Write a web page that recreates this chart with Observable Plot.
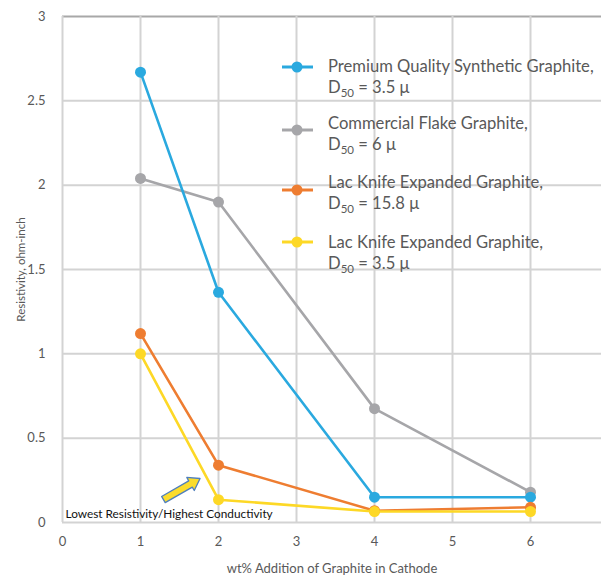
<!DOCTYPE html>
<html>
<head>
<meta charset="utf-8">
<script src="https://cdn.jsdelivr.net/npm/d3@7"></script>
<script src="https://cdn.jsdelivr.net/npm/@observablehq/plot@0.6"></script>
<style>
  html, body { margin: 0; padding: 0; background: #fff; }
  #wrap { position: relative; width: 601px; height: 575px; font-family: Lato, "Open Sans", sans-serif; }
  #legend { position: absolute; left: 0; top: 0; width: 601px; height: 300px; pointer-events: none; }
  .item { position: absolute; left: 328px; color: #595959; font-size: 16.6px; line-height: 21px; white-space: nowrap; }
  .item sub { font-size: 11.5px; vertical-align: -4px; line-height: 0; }
  .mk { position: absolute; left: 281px; width: 33px; height: 14px; }
</style>
</head>
<body>
<div id="wrap"></div>
<script>
// ---- data ----
const xValues = [1, 2, 4, 6];
const seriesNames = [
  "Premium Quality Synthetic Graphite, D50 = 3.5 μ",
  "Commercial Flake Graphite, D50 = 6 μ",
  "Lac Knife Expanded Graphite, D50 = 15.8 μ",
  "Lac Knife Expanded Graphite, D50 = 3.5 μ"
];
const premiumSynthetic = [2.67, 1.365, 0.15, 0.15];
const commercialFlake = [2.04, 1.90, 0.675, 0.18];
const lacKnife158 = [1.12, 0.34, 0.07, 0.09];
const lacKnife35 = [1.0, 0.135, 0.065, 0.065];
const seriesColors = ["#2aa9df", "#a6a6a9", "#ee7d31", "#fdd826"];
const legendLine1 = [
  "Premium Quality Synthetic Graphite,",
  "Commercial Flake Graphite,",
  "Lac Knife Expanded Graphite,",
  "Lac Knife Expanded Graphite,"
];
const legendD50 = ["3.5 μ", "6 μ", "15.8 μ", "3.5 μ"];
const xTicks = [0, 1, 2, 3, 4, 5, 6];
const yTicks = [0, 0.5, 1, 1.5, 2, 2.5, 3];
const annotationText = "Lowest Resistivity/Highest Conductivity";
const annotationPos = [{x: 0.04, y: 0.05}];
const arrowData = [{x1: 1.30, y1: 0.133, x2: 1.77, y2: 0.258}];

// ---- build table ----
const allSeries = [premiumSynthetic, commercialFlake, lacKnife158, lacKnife35];
const rows = [];
allSeries.forEach((vals, s) => vals.forEach((v, i) => rows.push({series: seriesNames[s], idx: s, x: xValues[i], y: v})));
// drawing order: gray, blue, orange, yellow
const order = [1, 0, 2, 3];

const W = 601, H = 575, mL = 62, mR = 0, mT = 16, mB = 53;
const xMax = (W - mL) / 78;

function blockArrow(index, scales, values) {
  const g = d3.create("svg:g");
  for (const i of index) {
    const x1 = values.x1[i], y1 = values.y1[i], x2 = values.x2[i], y2 = values.y2[i];
    const dx = x2 - x1, dy = y2 - y1, L = Math.hypot(dx, dy);
    const ux = dx / L, uy = dy / L, nx = -uy, ny = ux;
    const sw = 3.6, hw = 7.5, hl = 11;
    const bx = x2 - ux * hl, by = y2 - uy * hl;
    const pts = [
      [x1 + nx * sw, y1 + ny * sw], [bx + nx * sw, by + ny * sw], [bx + nx * hw, by + ny * hw],
      [x2, y2], [bx - nx * hw, by - ny * hw], [bx - nx * sw, by - ny * sw], [x1 - nx * sw, y1 - ny * sw]
    ];
    g.append("path").attr("d", "M" + pts.map(p => p.join(",")).join("L") + "Z")
      .attr("fill", "#fbdc2c").attr("stroke", "#4f7fbd").attr("stroke-width", 1.3).attr("stroke-linejoin", "round");
  }
  return g.node();
}

const fmt = d => `${d}`;

const chart = Plot.plot({
  width: W, height: H,
  marginLeft: mL, marginRight: mR, marginTop: mT, marginBottom: mB,
  style: {fontFamily: "Lato, 'Open Sans', sans-serif", color: "#595959", background: "#fff"},
  x: {domain: [0, xMax]},
  y: {domain: [0, 3]},
  marks: [
    Plot.ruleY(yTicks.filter(d => d < 3), {stroke: "#d3d3d3", strokeWidth: 2}),
    Plot.ruleY([3], {stroke: "#a8a8a8", strokeWidth: 2}),
    Plot.ruleX(xTicks, {stroke: "#d3d3d3", strokeWidth: 2}),
    Plot.axisX({ticks: xTicks, tickSize: 0, tickPadding: 14, fontSize: 13, tickFormat: fmt,
      label: "wt% Addition of Graphite in Cathode", labelAnchor: "center", labelOffset: 50, labelArrow: "none"}),
    Plot.axisY({ticks: yTicks, tickSize: 0, tickPadding: 17, fontSize: 13, tickFormat: fmt,
      label: "Resistivity, ohm-inch", labelAnchor: "center", labelOffset: 46, labelArrow: "none"}),
    ...order.map(s => Plot.line(rows.filter(r => r.idx === s), {x: "x", y: "y", stroke: seriesColors[s], strokeWidth: 2.6})),
    ...order.map(s => Plot.dot(rows.filter(r => r.idx === s), {x: "x", y: "y", fill: seriesColors[s], r: 5.5})),
    Plot.text(annotationPos, {x: "x", y: "y", text: () => annotationText, textAnchor: "start", fill: "#111", fontSize: 11.8}),
    Plot.link(arrowData, {x1: "x1", y1: "y1", x2: "x2", y2: "y2", render: blockArrow})
  ]
});

const wrap = document.getElementById("wrap");
wrap.appendChild(chart);
chart.querySelectorAll('[aria-label="x-axis label"] text').forEach(t => t.setAttribute("font-size", "13"));
chart.querySelectorAll('[aria-label="y-axis label"] text').forEach(t => t.setAttribute("font-size", "11.5"));

// ---- legend ----
const legend = document.createElement("div");
legend.id = "legend";
const textTops = [56, 113, 172, 232];
const markY = [67, 130, 190, 242];
legendLine1.forEach((l1, i) => {
  const mk = document.createElementNS("http://www.w3.org/2000/svg", "svg");
  mk.setAttribute("class", "mk");
  mk.setAttribute("viewBox", "0 0 33 14");
  mk.style.top = (markY[i] - 7) + "px";
  mk.innerHTML = `<line x1="1" x2="32" y1="7" y2="7" stroke="${seriesColors[i]}" stroke-width="3"/><circle cx="16" cy="7" r="5.5" fill="${seriesColors[i]}"/>`;
  legend.appendChild(mk);
  const it = document.createElement("div");
  it.className = "item";
  it.style.top = textTops[i] + "px";
  it.innerHTML = `${l1}<br>D<sub>50</sub> = ${legendD50[i]}`;
  legend.appendChild(it);
});
wrap.appendChild(legend);
</script>
</body>
</html>
